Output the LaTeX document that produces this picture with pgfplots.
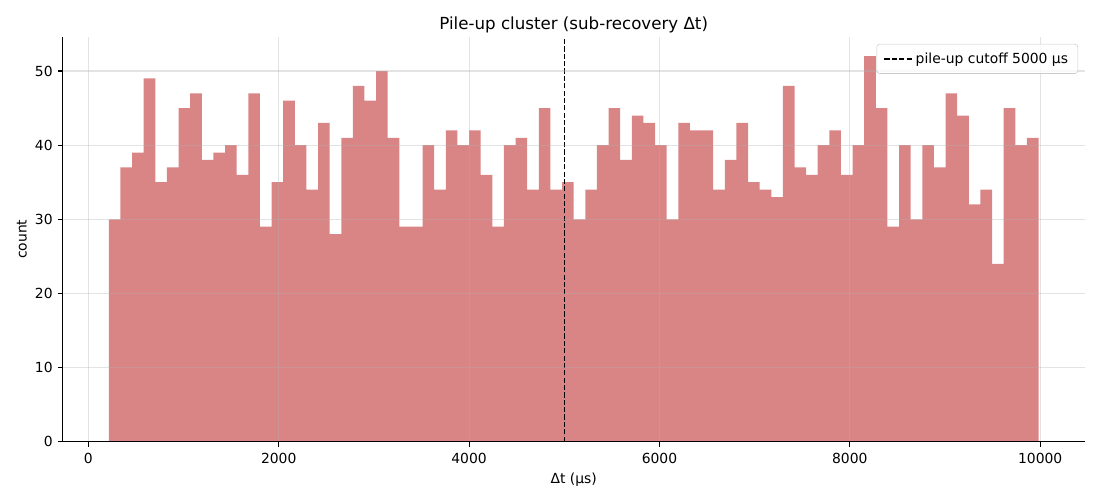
\documentclass[border=0pt]{standalone}
\usepackage{fontspec}
\setmainfont{DejaVu Sans}
\usepackage{pgfplots}
\pgfplotsset{compat=1.18}
\usepackage{pgfplotstable}
\definecolor{barcol}{RGB}{217,133,133}
\definecolor{gridcol}{RGB}{176,176,176}
\definecolor{legedge}{RGB}{204,204,204}
\pgfplotstableread{
x y
215.0 30
337.1 37
459.2 39
581.3 49
703.4 35
825.5 37
947.6 45
1069.7 47
1191.8 38
1313.9 39
1436.0 40
1558.1 36
1680.2 47
1802.3 29
1924.4 35
2046.5 46
2168.6 40
2290.7 34
2412.8 43
2534.9 28
2657.0 41
2779.1 48
2901.2 46
3023.3 50
3145.4 41
3267.5 29
3389.6 29
3511.7 40
3633.8 34
3755.9 42
3878.0 40
4000.1 42
4122.2 36
4244.3 29
4366.4 40
4488.5 41
4610.6 34
4732.7 45
4854.8 34
4976.9 35
5099.0 30
5221.1 34
5343.2 40
5465.3 45
5587.4 38
5709.5 44
5831.6 43
5953.7 40
6075.8 30
6197.9 43
6320.0 42
6442.1 42
6564.2 34
6686.3 38
6808.4 43
6930.5 35
7052.6 34
7174.7 33
7296.8 48
7418.9 37
7541.0 36
7663.1 40
7785.2 42
7907.3 36
8029.4 40
8151.5 52
8273.6 45
8395.7 29
8517.8 40
8639.9 30
8762.0 40
8884.1 37
9006.2 47
9128.3 44
9250.4 32
9372.5 34
9494.6 24
9616.7 45
9738.8 40
9860.9 41
9983.0 41
}\histdata
\begin{document}
\fontsize{10}{12}\selectfont
\begin{tikzpicture}
\useasboundingbox (0,0) rectangle (792pt,360pt);
\begin{axis}[
  at={(44.9pt,42pt)}, anchor=south west,
  scale only axis, width=736.3pt, height=291.4pt,
  xmin=-273, xmax=10471, ymin=0, ymax=54.6,
  axis x line*=bottom, axis y line*=left,
  axis line style={-, line width=0.8pt, black},
  axis on top,
  xtick={0,2000,4000,6000,8000,10000},
  ytick={0,10,20,30,40,50},
  scaled x ticks=false,
  /pgf/number format/1000 sep={},
  /pgf/number format/assume math mode=true,
  tick align=outside,
  major tick length=3.5pt,
  tick style={line width=0.8pt, black},
  ticklabel style={font=\fontsize{10}{12}\selectfont},
  xticklabel style={yshift=-1pt},
  xmajorgrids, ymajorgrids,
  grid style={line width=0.8pt, gridcol, opacity=0.35},
  title={Pile-up cluster (sub-recovery Δt)},
  title style={font=\fontsize{12}{14}\selectfont, yshift=-7pt},
  xlabel={Δt (μs)},
  ylabel={count},
  ylabel style={yshift=-1pt},
  label style={font=\fontsize{10}{12}\selectfont},
  legend style={at={(1,1)}, anchor=north east, xshift=-5pt, yshift=-5pt,
    draw=legedge, fill=white, fill opacity=0.8, text opacity=1,
    rounded corners=2pt, font=\fontsize{10}{12}\selectfont,
    inner xsep=5pt, inner ysep=4pt},
  legend cell align=left,
  legend image code/.code={\draw[#1] (0pt,0pt) -- (20pt,0pt);},
]
\addplot[ybar interval, fill=barcol, draw=none, forget plot] table[x=x,y=y] {\histdata};
\addplot[black, line width=1pt, dash pattern=on 3.7pt off 1.6pt] coordinates {(5000,0) (5000,54.6)};
\addlegendentry{pile-up cutoff 5000 μs}
\end{axis}
\end{tikzpicture}
\end{document}
